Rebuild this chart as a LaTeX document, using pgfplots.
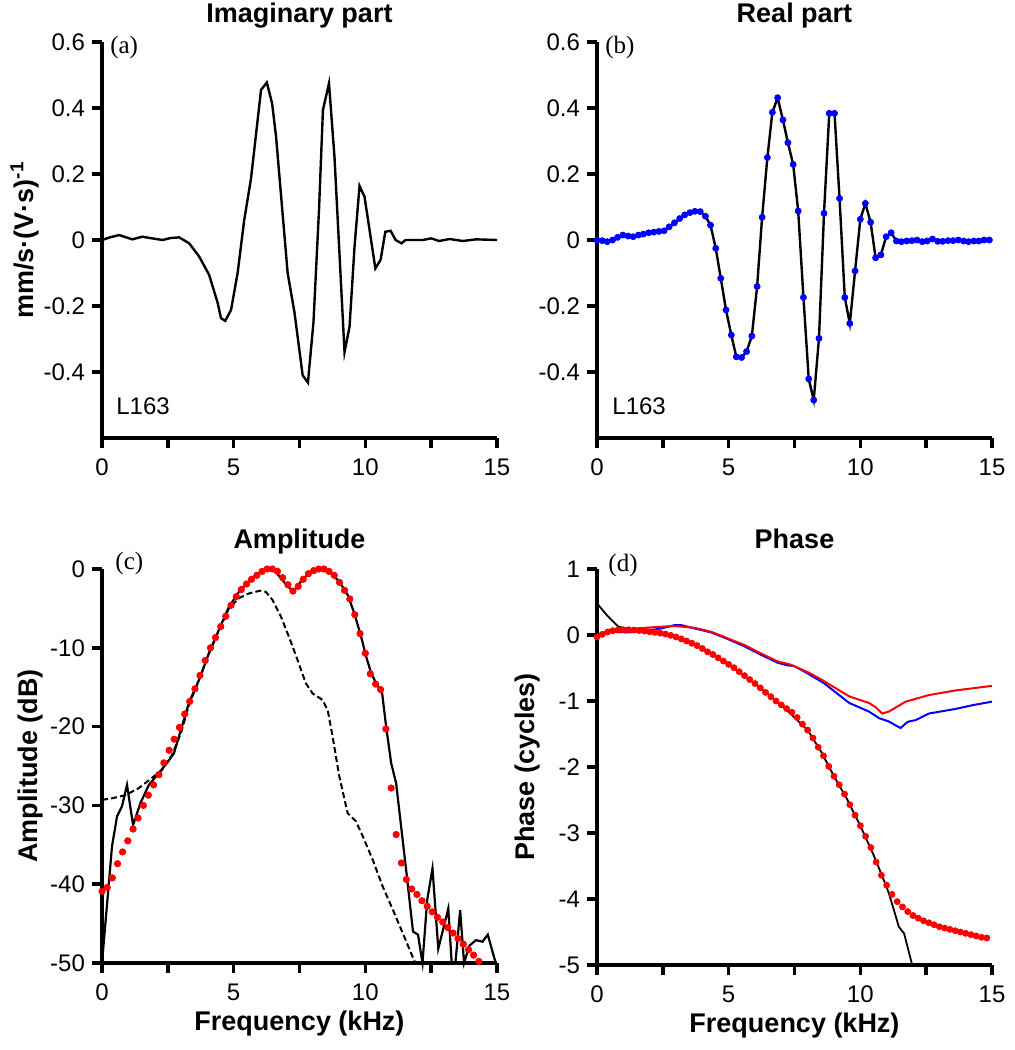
\documentclass[border=0pt]{standalone}
\usepackage{fontspec}
\setmainfont{Liberation Sans}
\newfontfamily\seriffont{Liberation Serif}
\usepackage{pgfplots}
\usepackage{pgfplotstable}
\pgfplotsset{compat=1.18}

\pgfplotstableread{
x y
0.00 0.000
0.20 -0.002
0.39 -0.005
0.59 0.000
0.78 0.008
0.98 0.015
1.18 0.012
1.37 0.010
1.57 0.015
1.76 0.018
1.96 0.022
2.16 0.024
2.35 0.026
2.55 0.028
2.74 0.040
2.94 0.052
3.14 0.065
3.33 0.076
3.53 0.083
3.72 0.087
3.92 0.086
4.12 0.072
4.31 0.045
4.51 -0.025
4.70 -0.116
4.90 -0.212
5.10 -0.288
5.29 -0.354
5.49 -0.356
5.68 -0.338
5.88 -0.291
6.08 -0.141
6.27 0.069
6.47 0.250
6.66 0.387
6.86 0.431
7.06 0.364
7.25 0.295
7.45 0.229
7.64 0.088
7.84 -0.174
8.04 -0.421
8.23 -0.485
8.43 -0.298
8.62 0.081
8.82 0.384
9.02 0.384
9.21 0.126
9.41 -0.174
9.60 -0.253
9.80 -0.094
10.00 0.063
10.19 0.111
10.39 0.054
10.58 -0.054
10.78 -0.045
10.98 0.010
11.17 0.022
11.37 -0.003
11.56 -0.005
11.76 -0.003
11.96 -0.002
12.15 0.000
12.35 -0.005
12.54 -0.003
12.74 0.003
12.94 -0.004
13.13 -0.004
13.33 -0.002
13.52 -0.002
13.72 0.000
13.92 -0.003
14.11 -0.005
14.31 -0.003
14.50 -0.003
14.70 0.000
14.90 0.000
}\realtable

\pgfplotstableread{
x y
0.00 -40.9
0.20 -40.4
0.39 -39.2
0.59 -37.4
0.78 -35.9
0.98 -34.5
1.18 -33.0
1.37 -31.6
1.57 -30.0
1.76 -28.7
1.96 -27.4
2.16 -26.1
2.35 -24.6
2.55 -23.0
2.74 -21.6
2.94 -20.1
3.14 -18.4
3.33 -16.8
3.53 -15.2
3.72 -13.5
3.92 -11.6
4.12 -10.0
4.31 -8.7
4.51 -7.3
4.70 -6.0
4.90 -4.6
5.10 -3.5
5.29 -2.6
5.49 -1.9
5.68 -1.3
5.88 -0.8
6.08 -0.3
6.27 0.0
6.47 0.0
6.66 -0.3
6.86 -1.1
7.06 -2.0
7.25 -2.8
7.45 -2.2
7.64 -1.3
7.84 -0.6
8.04 -0.2
8.23 0.0
8.43 0.0
8.62 -0.3
8.82 -0.8
9.02 -1.7
9.21 -2.7
9.41 -3.8
9.60 -5.8
9.80 -8.2
10.00 -10.7
10.19 -13.3
10.39 -14.6
10.58 -15.3
10.78 -20.3
10.98 -27.8
11.17 -33.7
11.37 -37.3
11.56 -39.4
11.76 -40.6
11.96 -41.3
12.15 -42.1
12.35 -42.8
12.54 -43.5
12.74 -44.2
12.94 -44.8
13.13 -45.5
13.33 -46.2
13.52 -46.9
13.72 -47.6
13.92 -48.3
14.11 -49.0
14.31 -49.8
}\ampdots

\pgfplotstableread{
x y
0.0 -0.03
0.1 -0.01
0.2 0.01
0.3 0.03
0.4 0.045
0.5 0.055
0.6 0.065
0.7 0.07
0.8 0.075
0.9 0.08
1.0 0.08
1.1 0.08
1.2 0.08
1.3 0.078
1.4 0.075
1.5 0.072
1.6 0.068
1.7 0.064
1.8 0.06
1.9 0.055
2.0 0.05
2.1 0.045
2.2 0.04
2.3 0.033
2.4 0.028
2.5 0.022
2.6 0.015
2.7 0.005
2.8 -0.005
2.9 -0.015
3.0 -0.03
3.1 -0.045
3.2 -0.06
3.3 -0.075
3.4 -0.09
3.5 -0.105
3.6 -0.125
3.7 -0.14
3.8 -0.16
3.9 -0.18
4.0 -0.205
4.1 -0.23
4.2 -0.255
4.3 -0.275
4.4 -0.295
4.5 -0.32
4.6 -0.345
4.7 -0.37
4.8 -0.395
4.9 -0.42
5.0 -0.445
5.1 -0.47
5.2 -0.495
5.3 -0.525
5.4 -0.555
5.5 -0.585
5.6 -0.615
5.7 -0.645
5.8 -0.675
5.9 -0.705
6.0 -0.735
6.1 -0.77
6.2 -0.80
6.3 -0.835
6.4 -0.87
6.5 -0.90
6.6 -0.935
6.7 -0.97
6.8 -1.00
6.9 -1.03
7.0 -1.06
7.1 -1.09
7.2 -1.115
7.3 -1.14
7.4 -1.17
7.5 -1.21
7.6 -1.25
7.7 -1.30
7.8 -1.35
7.9 -1.40
8.0 -1.44
8.1 -1.50
8.2 -1.56
8.3 -1.63
8.4 -1.70
8.5 -1.76
8.6 -1.83
8.7 -1.91
8.8 -1.99
8.9 -2.07
9.0 -2.14
9.1 -2.21
9.2 -2.27
9.3 -2.34
9.4 -2.41
9.5 -2.49
9.6 -2.57
9.7 -2.65
9.8 -2.73
9.9 -2.81
10.0 -2.89
10.1 -2.97
10.2 -3.05
10.3 -3.13
10.4 -3.22
10.5 -3.33
10.6 -3.44
10.7 -3.55
10.8 -3.64
10.9 -3.72
11.0 -3.79
11.1 -3.86
11.2 -3.93
11.3 -3.99
11.4 -4.04
11.5 -4.08
11.6 -4.12
11.7 -4.16
11.8 -4.19
11.9 -4.22
12.0 -4.25
12.1 -4.27
12.2 -4.29
12.3 -4.31
12.4 -4.33
12.5 -4.34
12.6 -4.36
12.7 -4.38
12.8 -4.39
12.9 -4.41
13.0 -4.42
13.1 -4.43
13.2 -4.44
13.3 -4.45
13.4 -4.46
13.5 -4.47
13.6 -4.48
13.7 -4.49
13.8 -4.50
13.9 -4.51
14.0 -4.52
14.1 -4.53
14.2 -4.54
14.3 -4.55
14.4 -4.56
14.5 -4.57
14.6 -4.58
14.7 -4.59
14.8 -4.59
14.9 -4.60
}\phasedots

\pgfplotsset{
  refstyle/.style={
    scale only axis, width=197.5pt,
    axis x line*=bottom, axis y line*=left,
    axis line style={line width=1.8pt},
    tick align=outside,
    major tick length=5pt,
    tick style={black, line width=1.8pt},
    xmin=0, xmax=15,
    xtick={0,2.5,5,7.5,10,12.5,15},
    xticklabels={0,,5,,10,,15},
    tick label style={font=\fontsize{12}{14}\selectfont},
    xticklabel style={yshift=-2pt},
    title style={font=\bfseries\fontsize{13.5}{16}\selectfont, at={(0.5,1)}, anchor=base, yshift=4pt},
    label style={font=\bfseries\fontsize{13.5}{16}\selectfont},
    clip=false,
  },
}
\tikzset{
  plab/.style={font=\seriffont\fontsize{12.5}{15}\selectfont, inner sep=0pt, anchor=west},
  llab/.style={font=\fontsize{12}{14}\selectfont, inner sep=0pt, anchor=base west},
}

\begin{document}
\begin{tikzpicture}
\path[use as bounding box] (-51pt,-306pt) rectangle (456pt,219pt);

% (a)
\begin{axis}[refstyle, at={(0pt,0pt)}, anchor=south west, height=198pt,
  ymin=-0.6, ymax=0.6,
  ytick={-0.4,-0.2,0,0.2,0.4,0.6}, yticklabels={-0.4,-0.2,0,0.2,0.4,0.6},
  title={Imaginary part},
  ylabel={mm/s·(V·s)\textsuperscript{-1}},
  ylabel style={at={(axis description cs:-0.195,0.5)}, anchor=center}]
\addplot[black, line width=1.2pt] coordinates {
(0,0) (0.3,0.008) (0.65,0.015) (1.15,0.002) (1.53,0.01) (1.9,0.005) (2.3,0) (2.6,0.006)
(2.93,0.008) (3.31,-0.01) (3.69,-0.05) (4.07,-0.106) (4.39,-0.19) (4.52,-0.237) (4.68,-0.245)
(4.9,-0.212) (5.15,-0.10) (5.4,0.06) (5.66,0.187) (6.04,0.455) (6.26,0.477) (6.46,0.414)
(6.61,0.313) (7.05,-0.10) (7.31,-0.22) (7.62,-0.41) (7.82,-0.432) (8.03,-0.25) (8.24,0.09)
(8.39,0.394) (8.62,0.475) (8.83,0.25) (9.21,-0.34) (9.4,-0.263) (9.59,-0.02) (9.78,0.164)
(9.97,0.131) (10.38,-0.086) (10.58,-0.06) (10.76,0.025) (10.96,0.028) (11.15,0) (11.37,-0.01)
(11.53,0) (12.19,0) (12.5,0.005) (12.8,-0.003) (13.2,0.003) (13.7,-0.003) (14.2,0.002) (15,0)};
\node[plab] at (rel axis cs:0.02,0.987) {(a)};
\node[llab] at (axis cs:0.53,-0.53) {L163};
\end{axis}

% (b)
\begin{axis}[refstyle, at={(247.5pt,0pt)}, anchor=south west, height=198pt,
  ymin=-0.6, ymax=0.6,
  ytick={-0.4,-0.2,0,0.2,0.4,0.6}, yticklabels={-0.4,-0.2,0,0.2,0.4,0.6},
  title={Real part}]
\addplot[black, line width=1.2pt] table[x=x,y=y] {\realtable};
\addplot[only marks, mark=*, blue, mark size=1.5pt] table[x=x,y=y] {\realtable};
\node[plab] at (rel axis cs:0.02,0.987) {(b)};
\node[llab] at (axis cs:0.57,-0.53) {L163};
\end{axis}

% (c)
\begin{axis}[refstyle, at={(0pt,-262.5pt)}, anchor=south west, height=197pt,
  ymin=-50, ymax=0,
  ytick={-50,-40,-30,-20,-10,0}, yticklabels={-50,-40,-30,-20,-10,0},
  title={Amplitude}, title style={yshift=0.5pt},
  xlabel={Frequency (kHz)},
  xlabel style={at={(axis description cs:0.5,0)}, anchor=base, yshift=-33.5pt},
  ylabel={Amplitude (dB)},
  ylabel style={at={(axis description cs:-0.182,0.5)}, anchor=center}]
\addplot[black, line width=1.1pt] coordinates {
(0,-50) (0.38,-35.2) (0.57,-31.4) (0.76,-30.1) (0.95,-27.4) (1.18,-32.5) (1.46,-29.7)
(1.78,-27.4) (2.16,-25.9) (2.47,-24.6) (2.73,-23.4) (2.98,-20.6) (3.30,-17.0) (3.68,-14.1)
(4.06,-10.7) (4.44,-7.7) (4.82,-4.8) (5.20,-2.9) (5.58,-1.6) (5.96,-0.55) (6.28,0) (6.53,-0.1)
(6.85,-1.4) (7.26,-2.9) (7.55,-1.6) (7.93,-0.3) (8.31,0) (8.63,-0.3) (9.01,-1.6) (9.33,-3.3)
(9.58,-5.6) (9.84,-8.6) (10.03,-11.1) (10.22,-13.2) (10.41,-14.5) (10.64,-15.8) (10.79,-20.0)
(10.98,-24.6) (11.17,-27.2) (11.36,-32.7) (11.55,-38.2) (11.81,-46.0) (12.0,-46.4) (12.17,-50)
(12.35,-42) (12.55,-38.0) (12.77,-48.2) (13.15,-43.1) (13.28,-50) (13.42,-50) (13.6,-43.3)
(13.75,-50) (13.95,-47.8) (14.2,-47.1) (14.45,-47.3) (14.65,-46.4) (14.95,-50)};
\addplot[black, line width=1pt, dash pattern=on 3pt off 1.6pt] coordinates {
(0,-29.3) (0.38,-29.1) (0.89,-28.7) (1.4,-27.8) (1.9,-26.5) (2.28,-25.5) (2.66,-23.6) (3.0,-20.8)
(3.3,-17.3) (3.68,-14.1) (4.06,-10.7) (4.44,-7.8) (4.82,-5.0) (5.2,-3.7) (5.58,-3.1) (6.0,-2.75)
(6.22,-2.9) (6.47,-3.9) (6.79,-6.0) (7.1,-8.6) (7.42,-11.5) (7.74,-14.5) (8.0,-15.8) (8.37,-16.6)
(8.57,-17.9) (8.76,-21.3) (9.01,-26.3) (9.33,-31.0) (9.64,-32.0) (9.9,-33.9) (10.28,-36.9)
(10.66,-40.3) (11.04,-43.2) (11.42,-46.2) (11.87,-49.8)};
\addplot[only marks, mark=*, red, mark size=1.6pt] table[x=x,y=y] {\ampdots};
\node[plab] at (rel axis cs:0.033,1.013) {(c)};
\end{axis}

% (d)
\begin{axis}[refstyle, at={(247.5pt,-263.5pt)}, anchor=south west, height=198pt,
  ymin=-5, ymax=1,
  ytick={-5,-4,-3,-2,-1,0,1}, yticklabels={-5,-4,-3,-2,-1,0,1},
  title={Phase}, title style={yshift=0.5pt},
  xlabel={Frequency (kHz)},
  xlabel style={at={(axis description cs:0.5,0)}, anchor=base, yshift=-33.5pt},
  ylabel={Phase (cycles)},
  ylabel style={at={(axis description cs:-0.175,0.5)}, anchor=center}]
\addplot[black, line width=0.9pt] coordinates {
(0,0.48) (0.42,0.28) (0.8,0.13) (1.2,0.08) (2,0.05) (3,-0.03) (4,-0.205) (5,-0.445) (6,-0.735)
(7,-1.06) (8,-1.44) (8.5,-1.76) (9,-2.14) (9.5,-2.49) (10,-2.89) (10.5,-3.33) (10.9,-3.72)
(11.08,-3.91) (11.3,-4.2) (11.46,-4.42) (11.66,-4.52) (11.95,-4.97)};
\addplot[blue, line width=1pt] coordinates {
(0,-0.02) (0.42,0.05) (1.17,0.04) (1.8,0.06) (2.44,0.10) (2.94,0.15) (3.2,0.15) (3.7,0.10)
(4.33,0.04) (4.96,-0.06) (5.59,-0.17) (6.23,-0.30) (6.86,-0.42) (7.24,-0.46) (7.49,-0.47)
(7.99,-0.58) (8.62,-0.73) (9.58,-1.03) (10.33,-1.16) (10.71,-1.26) (11.08,-1.31) (11.3,-1.36)
(11.53,-1.41) (11.75,-1.33) (11.84,-1.31) (12.1,-1.29) (12.6,-1.19) (13.61,-1.12) (14.3,-1.06) (15.0,-1.01)};
\addplot[red, line width=1pt] coordinates {
(0,-0.03) (0.42,0.076) (1.17,0.09) (2.44,0.126) (2.94,0.136) (3.70,0.11) (4.33,0.05) (4.96,-0.05)
(5.59,-0.15) (6.23,-0.28) (6.86,-0.40) (7.36,-0.45) (7.99,-0.56) (8.5,-0.67) (9.58,-0.93)
(10.33,-1.03) (10.6,-1.1) (10.83,-1.19) (11.08,-1.16) (11.72,-1.01) (12.6,-0.91) (13.61,-0.84) (15.0,-0.77)};
\addplot[only marks, mark=*, red, mark size=1.5pt, each nth point=2] table[x=x,y=y] {\phasedots};
\node[plab] at (rel axis cs:0.028,1.008) {(d)};
\end{axis}
\end{tikzpicture}
\end{document}
